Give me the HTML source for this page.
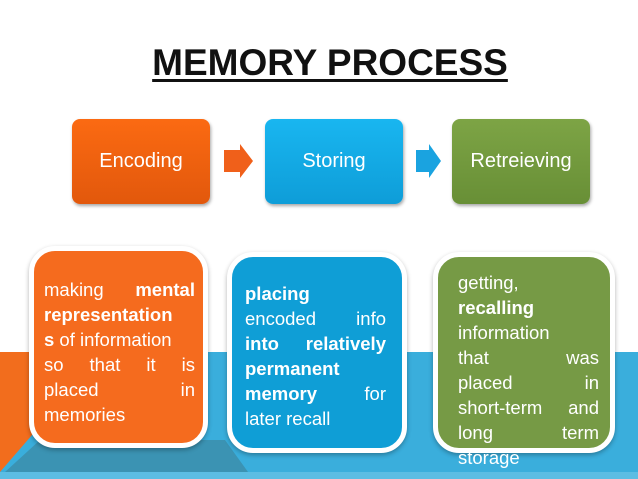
<!DOCTYPE html>
<html><head><meta charset="utf-8"><style>
*{margin:0;padding:0;box-sizing:border-box}
body{width:638px;height:479px;position:relative;overflow:hidden;background:#fff;font-family:"Liberation Sans",sans-serif}
.title{position:absolute;left:0;width:660px;top:42px;text-align:center;font-weight:bold;font-size:37px;text-decoration:underline;text-decoration-thickness:3px;text-underline-offset:4px;color:#111}
.tb{position:absolute;top:119px;height:85px;width:138px;border-radius:8px;color:#fff;font-size:20px;display:flex;align-items:center;justify-content:center;box-shadow:1px 2px 3px rgba(0,0,0,.35)}
.card{position:absolute;border:5px solid #fff;border-radius:26px;box-shadow:0 2px 5px rgba(0,0,0,.3)}
.txt{position:absolute;color:#fff;font-size:18.5px;line-height:25px}
.l{display:flex;justify-content:space-between;white-space:nowrap}
b{font-weight:bold}
</style></head><body>
<svg width="638" height="479" style="position:absolute;left:0;top:0">
<rect x="0" y="352" width="638" height="127" fill="#3aaedc"/>
<polygon points="0,352 45,352 45,420 0,472" fill="#f26d1d"/>
<polygon points="40,440 225,440 248,472 5,472" fill="#3b93b3"/>
<rect x="0" y="472" width="638" height="7" fill="#5cbde3"/>
<polygon points="224,150 240,150 240,144 253,161 240,178 240,172 224,172" fill="#f0601a"/>
<polygon points="416,150 429,150 429,144 441,161 429,178 429,172 416,172" fill="#1aa3e0"/>
</svg>
<div class="title">MEMORY PROCESS</div>
<div class="tb" style="left:72px;background:linear-gradient(#fb6a12,#e2580c)">Encoding</div>
<div class="tb" style="left:265px;background:linear-gradient(#19b6f0,#0e9dd8)">Storing</div>
<div class="tb" style="left:452px;background:linear-gradient(#7da445,#688f36)">Retreieving</div>

<div class="card" style="left:29px;top:246px;width:179px;height:202px;background:#f56b1e"></div>
<div class="card" style="left:227px;top:252px;width:180px;height:201px;background:#0f9ed6"></div>
<div class="card" style="left:433px;top:252px;width:182px;height:201px;background:#769a45"></div>

<div class="txt" style="left:44px;top:277px;width:151px">
<div class="l"><span>making</span><b>mental</b></div>
<div class="l"><b>representation</b></div>
<div class="l"><span><b>s</b> of information</span></div>
<div class="l"><span>so</span><span>that</span><span>it</span><span>is</span></div>
<div class="l"><span>placed</span><span>in</span></div>
<div class="l"><span>memories</span></div>
</div>
<div class="txt" style="left:245px;top:281px;width:141px">
<div class="l"><b>placing</b></div>
<div class="l"><span>encoded</span><span>info</span></div>
<div class="l"><b>into</b><b>relatively</b></div>
<div class="l"><b>permanent</b></div>
<div class="l"><b>memory</b><span>for</span></div>
<div class="l"><span>later recall</span></div>
</div>
<div class="txt" style="left:458px;top:270px;width:141px">
<div class="l"><span>getting,</span></div>
<div class="l"><b>recalling</b></div>
<div class="l"><span>information</span></div>
<div class="l"><span>that</span><span>was</span></div>
<div class="l"><span>placed</span><span>in</span></div>
<div class="l"><span>short-term</span><span>and</span></div>
<div class="l"><span>long</span><span>term</span></div>
<div class="l"><span>storage</span></div>
</div>
</body></html>
